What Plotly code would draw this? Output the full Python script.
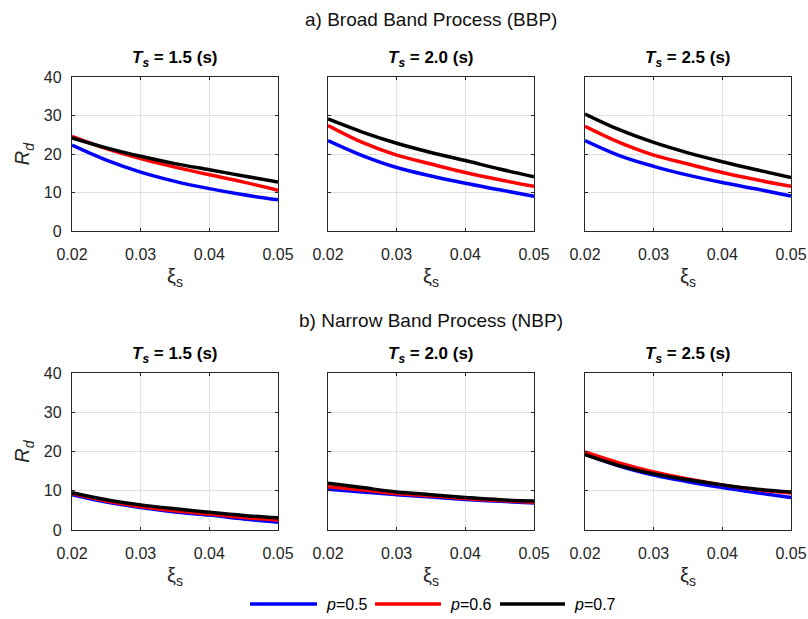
import plotly.graph_objects as go

xi = [0.02, 0.025, 0.03, 0.035, 0.04, 0.045, 0.05]
p_labels = ["0.5", "0.6", "0.7"]
colors = ["#0000ff", "#ff0000", "#000000"]
ts_labels = ["1.5", "2.0", "2.5"]
x_ticks = [0.02, 0.03, 0.04, 0.05]
y_ticks = [0, 10, 20, 30, 40]

# Broad Band Process (BBP)
bbp_ts15_p05 = [22.3, 18.4, 15.3, 12.9, 11.0, 9.4, 8.1]
bbp_ts15_p06 = [24.6, 21.4, 18.8, 16.6, 14.6, 12.7, 10.6]
bbp_ts15_p07 = [24.2, 21.6, 19.4, 17.5, 15.9, 14.3, 12.7]
bbp_ts20_p05 = [23.5, 19.6, 16.5, 14.3, 12.4, 10.7, 9.0]
bbp_ts20_p06 = [27.4, 23.0, 19.7, 17.4, 15.2, 13.3, 11.6]
bbp_ts20_p07 = [29.1, 25.7, 22.8, 20.4, 18.3, 16.1, 14.1]
bbp_ts25_p05 = [23.5, 19.6, 16.8, 14.5, 12.6, 10.9, 9.1]
bbp_ts25_p06 = [27.2, 23.0, 19.7, 17.4, 15.2, 13.3, 11.6]
bbp_ts25_p07 = [30.4, 26.3, 23.0, 20.3, 18.0, 15.9, 13.9]

# Narrow Band Process (NBP)
nbp_ts15_p05 = [9.0, 7.1, 5.7, 4.6, 3.8, 2.8, 2.0]
nbp_ts15_p06 = [9.3, 7.4, 6.0, 4.9, 4.1, 3.2, 2.5]
nbp_ts15_p07 = [9.5, 7.7, 6.4, 5.4, 4.5, 3.7, 3.1]
nbp_ts20_p05 = [10.4, 9.7, 9.0, 8.4, 7.8, 7.3, 6.9]
nbp_ts20_p06 = [11.0, 10.2, 9.3, 8.7, 8.0, 7.5, 7.1]
nbp_ts20_p07 = [11.9, 10.8, 9.7, 9.0, 8.3, 7.7, 7.4]
nbp_ts25_p05 = [19.4, 16.3, 14.0, 12.3, 10.8, 9.5, 8.3]
nbp_ts25_p06 = [19.9, 17.1, 14.8, 13.0, 11.5, 10.3, 9.4]
nbp_ts25_p07 = [19.2, 16.4, 14.3, 12.8, 11.5, 10.4, 9.7]

panels = [
    [bbp_ts15_p05, bbp_ts15_p06, bbp_ts15_p07],
    [bbp_ts20_p05, bbp_ts20_p06, bbp_ts20_p07],
    [bbp_ts25_p05, bbp_ts25_p06, bbp_ts25_p07],
    [nbp_ts15_p05, nbp_ts15_p06, nbp_ts15_p07],
    [nbp_ts20_p05, nbp_ts20_p06, nbp_ts20_p07],
    [nbp_ts25_p05, nbp_ts25_p06, nbp_ts25_p07],
]

# body margin is removed by the post script, so the figure fills the window
OFF = 0
W, H = 808, 619
FONT = "Liberation Sans, Arial, sans-serif"
AXC = "#262626"

x_dom_px = [(72, 278), (328, 534), (585, 791)]
y_dom_px = [(77, 231), (373, 530)]

def px_x(v):
    return (v - OFF) / W

def px_y(v):
    return 1 - (v - OFF) / H

fig = go.Figure()
layout = dict(
    width=W, height=H,
    margin=dict(l=0, r=0, t=0, b=0, pad=0, autoexpand=False),
    paper_bgcolor="white", plot_bgcolor="white",
    showlegend=False,
    font=dict(family=FONT, color=AXC),
)

annotations = []
shapes = []

for i, series in enumerate(panels):
    row, col = divmod(i, 3)
    n = i + 1
    xa = "x" if n == 1 else f"x{n}"
    ya = "y" if n == 1 else f"y{n}"
    for k, vals in enumerate(series):
        fig.add_trace(go.Scatter(
            x=xi, y=vals, mode="lines",
            line=dict(color=colors[k], width=3.5, shape="spline", smoothing=1.0),
            name=f"p={p_labels[k]}", xaxis=xa, yaxis=ya, showlegend=False,
        ))
    x0, x1 = x_dom_px[col]
    y0, y1 = y_dom_px[row]
    xkey = "xaxis" if n == 1 else f"xaxis{n}"
    ykey = "yaxis" if n == 1 else f"yaxis{n}"
    layout[xkey] = dict(
        domain=[px_x(x0), px_x(x1)], anchor=ya, range=[0.02, 0.05], automargin=False,
        tickvals=x_ticks, ticktext=[f"{t:.2f}" for t in x_ticks], ticklabeloverflow="allow",
        showgrid=True, gridcolor="#dfdfdf", gridwidth=1,
        showline=True, linecolor=AXC, linewidth=1.3, mirror="ticks",
        ticks="inside", ticklen=3, tickcolor=AXC, zeroline=False,
        tickfont=dict(size=16, color=AXC, family=FONT), ticklabelstandoff=9,
        title=dict(text="ξ<sub>s</sub>", font=dict(size=20, color=AXC, family=FONT), standoff=6),
    )
    layout[ykey] = dict(
        domain=[px_y(y1), px_y(y0)], anchor=xa, range=[0, 40], automargin=False,
        tickvals=y_ticks, showticklabels=(col == 0),
        showgrid=True, gridcolor="#dfdfdf", gridwidth=1,
        showline=True, linecolor=AXC, linewidth=1.3, mirror="ticks",
        ticks="inside", ticklen=3, tickcolor=AXC, zeroline=False,
        tickfont=dict(size=16, color=AXC, family=FONT), ticklabelstandoff=6,
        title=dict(text="<i>R</i><sub><i>d</i></sub>" if col == 0 else "",
                   font=dict(size=20, color=AXC, family=FONT), standoff=8),
    )
    # panel title
    annotations.append(dict(
        xref="paper", yref="paper", x=px_x((x0 + x1) / 2), y=px_y(y0 - 5),
        xanchor="center", yanchor="bottom", showarrow=False,
        text=f"<b><i>T</i><sub><i>s</i></sub> = {ts_labels[col]} (s)</b>",
        font=dict(size=17, color="#000000", family=FONT),
    ))

annotations.append(dict(xref="paper", yref="paper", x=px_x(431), y=px_y(20), xanchor="center", yanchor="middle",
                        showarrow=False, text="a) Broad Band Process (BBP)", font=dict(size=19, color="#111111", family=FONT)))
annotations.append(dict(xref="paper", yref="paper", x=px_x(431), y=px_y(320), xanchor="center", yanchor="middle",
                        showarrow=False, text="b) Narrow Band Process (NBP)", font=dict(size=19, color="#111111", family=FONT)))

# legend (drawn manually to match the long line samples)
leg_line_px = [(250, 317), (375, 441), (500, 565)]
leg_y = 604
for k, (a, b) in enumerate(leg_line_px):
    shapes.append(dict(type="line", xref="paper", yref="paper", x0=px_x(a), x1=px_x(b),
                       y0=px_y(leg_y), y1=px_y(leg_y), line=dict(color=colors[k], width=3.5)))
    annotations.append(dict(xref="paper", yref="paper", x=px_x(b + 7), y=px_y(leg_y), xanchor="left", yanchor="middle",
                            showarrow=False, text=f"<i>p</i>={p_labels[k]}", font=dict(size=16, color="#000000", family=FONT)))

layout["annotations"] = annotations
layout["shapes"] = shapes
fig.update_layout(**layout)
fig.write_html("out.html", config={"displayModeBar": False},
               post_script="document.body.style.margin='0';document.body.style.overflow='hidden';")
